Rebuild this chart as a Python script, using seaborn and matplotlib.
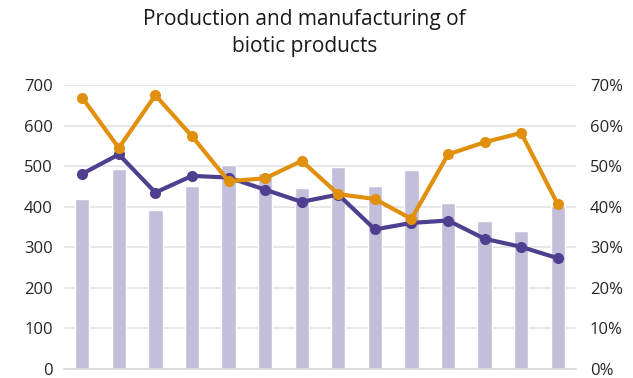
import matplotlib
matplotlib.use("Agg")
import matplotlib.pyplot as plt
import seaborn as sns
import pandas as pd
import numpy as np
from matplotlib.ticker import PercentFormatter

sns.set_theme(style="white")
plt.rcParams['font.family'] = ['Open Sans', 'DejaVu Sans']

categories = [str(i) for i in range(1, 15)]
bar_values = [418, 493, 391, 452, 504, 483, 445, 497, 451, 491, 408, 365, 341, 401]
purple_pct = [48.1, 52.9, 43.5, 47.6, 47.2, 44.2, 41.2, 43.0, 34.4, 36.0, 36.6, 32.1, 30.1, 27.3]
orange_pct = [66.9, 54.5, 67.5, 57.4, 46.3, 47.0, 51.3, 43.1, 41.9, 37.0, 52.9, 55.9, 58.2, 40.6]
left_ticks = [0, 100, 200, 300, 400, 500, 600, 700]
right_ticks = [0, 10, 20, 30, 40, 50, 60, 70]

df = pd.DataFrame({"cat": categories, "bar": bar_values,
                   "purple": purple_pct, "orange": orange_pct,
                   "pos": np.arange(len(categories))})

fig = plt.figure(figsize=(6.33, 3.78), dpi=100)
ax = fig.add_axes([0.101, 0.024, 0.809, 0.751])
sns.barplot(data=df, x="cat", y="bar", color="#c3bed9", width=0.39,
            saturation=1, ax=ax, zorder=2)
ax.set_ylim(0, 700)
ax.set_xlim(-0.5, len(categories) - 0.5)
ax.set_yticks(left_ticks)
ax.set_xticks([])
ax.set_xlabel("")
ax.set_ylabel("")
ax.yaxis.grid(True, color="#e3e3e3", linewidth=1.2, zorder=0)
ax.set_axisbelow(True)
for s in ["top", "right", "left"]:
    ax.spines[s].set_visible(False)
ax.spines["bottom"].set_color("#d9d9d9")
ax.spines["bottom"].set_linewidth(1.2)
ax.tick_params(axis="y", length=0, labelsize=12, labelcolor="#262626", pad=8)

ax2 = ax.twinx()
sns.lineplot(data=df, x="pos", y="purple", color="#4e3f8f", marker="o",
             markersize=8, markeredgewidth=0, linewidth=3, ax=ax2)
sns.lineplot(data=df, x="pos", y="orange", color="#e0900c", marker="o",
             markersize=8, markeredgewidth=0, linewidth=3, ax=ax2)
ax2.set_ylim(0, 70)
ax2.set_yticks(right_ticks)
ax2.yaxis.set_major_formatter(PercentFormatter(decimals=0))
ax2.set_xlabel("")
ax2.set_ylabel("")
for s in ["top", "right", "left", "bottom"]:
    ax2.spines[s].set_visible(False)
ax2.tick_params(axis="y", length=0, labelsize=12, labelcolor="#262626", pad=10)
ax2.set_xlim(-0.5, len(categories) - 0.5)

fig.suptitle("Production and manufacturing of\nbiotic products", x=0.481, y=0.975,
             fontsize=15, color="#1a1a1a", linespacing=1.35)

fig.savefig("out.png", dpi=100)
